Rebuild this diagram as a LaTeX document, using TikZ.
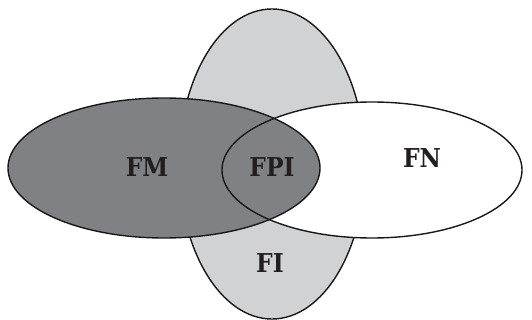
\documentclass[tikz,border=0pt]{standalone}
\usepackage{fontspec}
\setmainfont{DejaVu Serif Condensed}
\begin{document}
\begin{tikzpicture}[
   x=1pt,y=-1pt,
   set/.style={draw=black!90,line width=1.4pt},
   FMfill/.style={fill={rgb,255:red,128;green,129;blue,133}},
   FIfill/.style={fill={rgb,255:red,209;green,210;blue,212}},
   every node/.style={font=\bfseries\fontsize{26}{30}\selectfont,
     text={rgb,255:red,35;green,31;blue,32}}]
\useasboundingbox (0,0) rectangle (532,320);
\filldraw[set,FIfill] (272,164) ellipse [x radius=93,y radius=155];
\fill[white] (372,170) ellipse [x radius=150,y radius=68];
\fill[FMfill] (164,168) ellipse [x radius=156,y radius=70];
\draw[set] (372,170) ellipse [x radius=150,y radius=68];
\draw[set] (164,168) ellipse [x radius=156,y radius=70];
\node (FM) at (147,167) {FM};
\node (FPI) at (272,167) {FPI};
\node (FN) at (422,158) {FN};
\node (FI) at (270,263) {FI};
\end{tikzpicture}
\end{document}
